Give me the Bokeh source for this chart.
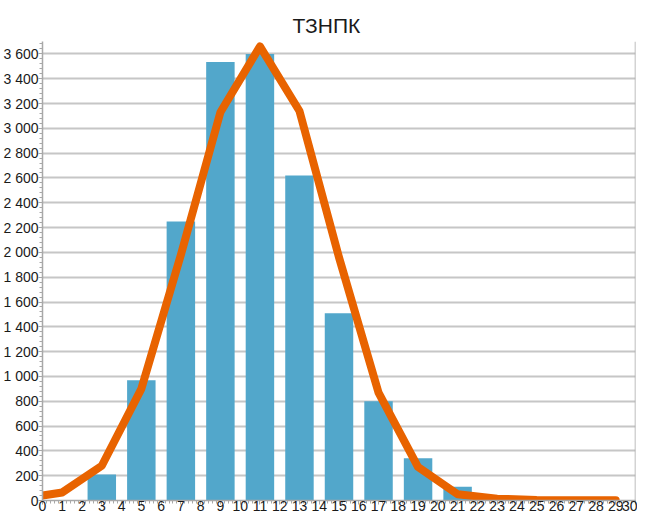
from bokeh.plotting import figure
from bokeh.models import FixedTicker, CustomJSTickFormatter, Span, Range1d
from bokeh.embed import file_html
from bokeh.resources import INLINE

# ---- data ----
title_text = "ТЗНПК"
bar_x = [1, 3, 5, 7, 9, 11, 13, 15, 17, 19, 21, 23, 25, 27, 29]
bar_counts = [5, 210, 970, 2250, 3535, 3600, 2620, 1510, 800, 340, 110, 20, 4, 2, 1]
line_x = [0, 1, 3, 5, 7, 9, 11, 13, 15, 17, 19, 21, 23, 25, 27, 29]
line_y = [40, 65, 280, 900, 1980, 3130, 3660, 3140, 1960, 870, 270, 50, 15, 5, 3, 2]
x_ticks = list(range(0, 31))
y_ticks = list(range(0, 3601, 200))

FONT = "'Liberation Sans', Arial, sans-serif"
GRID = "#c6c6c6"
AXIS = "#a8a8a8"

p = figure(width=637, height=513, output_backend="svg", toolbar_location=None,
           x_range=Range1d(0, 30), y_range=Range1d(0, 3700),
           title=title_text, min_border_left=37, min_border_right=2,
           min_border_top=41, min_border_bottom=0)
p.outline_line_color = None
p.background_fill_color = "white"
p.border_fill_color = "white"

p.title.align = "left"
p.title.offset = 250
p.title.text_font = FONT
p.title.text_font_size = "21px"
p.title.text_font_style = "normal"
p.title.text_color = "#1a1a1a"

# bars
p.vbar(x=bar_x, top=bar_counts, width=1.44, bottom=0,
       fill_color="#52a7cb", line_color=None)
# line
p.line(line_x, line_y, line_color="#e86300", line_width=8, line_join="round",
       line_cap="round")

# right border
p.add_layout(Span(location=30, dimension="height", line_color=AXIS, line_width=1.5))

# axes
xa = p.xaxis[0]
xa.ticker = FixedTicker(ticks=x_ticks, minor_ticks=[i / 5 for i in range(0, 151)])
ya = p.yaxis[0]
ya.ticker = FixedTicker(ticks=y_ticks, minor_ticks=list(range(0, 3701, 40)))
ya.formatter = CustomJSTickFormatter(code="""
const t = Math.round(tick);
if (t >= 1000) { const r = String(t % 1000).padStart(3, '0'); return Math.floor(t/1000) + ' ' + r; }
return String(t);
""")
for ax in (xa, ya):
    ax.axis_line_color = AXIS
    ax.axis_line_width = 1.5
    ax.major_tick_line_color = AXIS
    ax.minor_tick_line_color = AXIS
    ax.major_tick_out = 4
    ax.major_tick_in = 0
    ax.minor_tick_out = 3
    ax.minor_tick_in = 0
    ax.major_label_text_font = FONT
    ax.major_label_text_font_size = "14px"
    ax.major_label_text_color = "#1a1a1a"
xa.major_label_standoff = -4
ya.major_label_standoff = 0

p.xgrid.grid_line_color = None
p.ygrid.grid_line_color = GRID
p.ygrid.grid_line_width = 2
p.ygrid.ticker = FixedTicker(ticks=y_ticks)

open("out.html", "w").write(file_html(p, INLINE))
